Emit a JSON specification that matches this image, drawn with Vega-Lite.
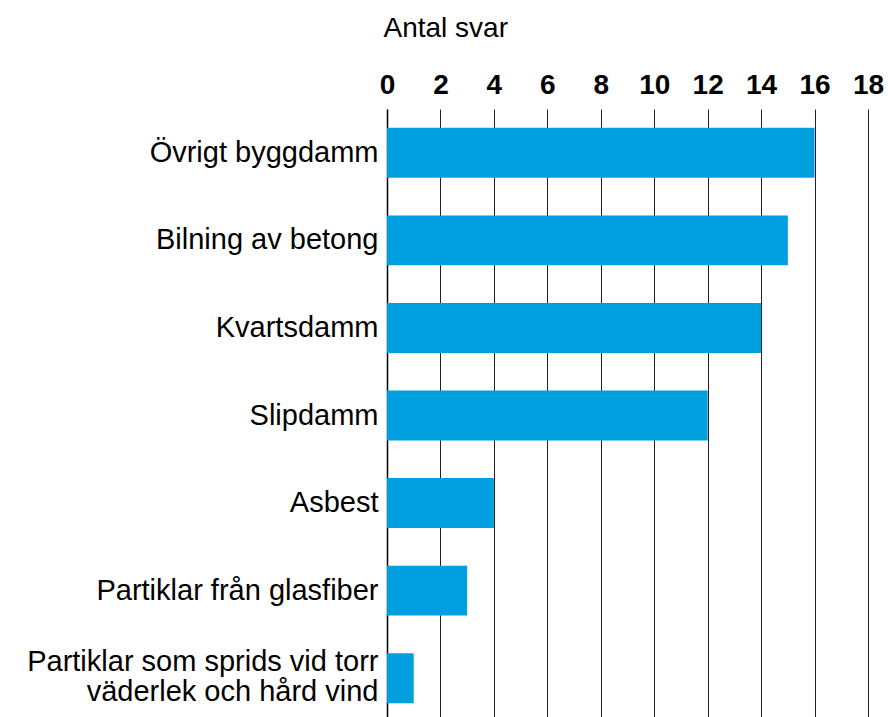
{
  "$schema": "https://vega.github.io/schema/vega-lite/v6.json",
  "width": 481,
  "height": 613,
  "autosize": {"type": "none"},
  "padding": {"left": 387, "top": 109, "right": 20, "bottom": 0},
  "background": "white",
  "config": {"view": {"stroke": null}, "font": "Liberation Sans"},
  "data": {"values": [
    {"kategori": "Övrigt byggdamm", "antal": 16},
    {"kategori": "Bilning av betong", "antal": 15},
    {"kategori": "Kvartsdamm", "antal": 14},
    {"kategori": "Slipdamm", "antal": 12},
    {"kategori": "Asbest", "antal": 4},
    {"kategori": "Partiklar från glasfiber", "antal": 3},
    {"kategori": "Partiklar som sprids vid torr väderlek och hård vind", "antal": 1}
  ]},
  "mark": {"type": "bar", "color": "#009fe0"},
  "encoding": {
    "y": {
      "field": "kategori", "type": "nominal", "sort": null,
      "scale": {"paddingInner": 0.43, "paddingOuter": 0.215},
      "axis": {
        "title": null, "domain": true, "domainColor": "#000", "domainWidth": 1.5,
        "ticks": false, "labelPadding": 9, "labelFontSize": 29, "labelColor": "#000",
        "labelLimit": 500, "labelLineHeight": 30,
        "labelOffset": {"condition": {"test": "length(datum.value) > 40", "value": -16}, "value": 0},
        "labelExpr": "datum.value == 'Partiklar som sprids vid torr väderlek och hård vind' ? ['Partiklar som sprids vid torr\u00a0', 'väderlek och hård vind'] : datum.value"
      }
    },
    "x": {
      "field": "antal", "type": "quantitative",
      "scale": {"domain": [0, 18], "nice": false},
      "axis": {
        "orient": "top", "values": [0,2,4,6,8,10,12,14,16,18],
        "domain": false, "ticks": false, "grid": true, "gridColor": "#222", "gridWidth": 1, "gridOpacity": 1,
        "labelFontSize": 28, "labelFontWeight": "bold", "labelColor": "#000", "labelPadding": 16,
        "labelBaseline": "alphabetic", "labelFlush": false,
        "title": "Antal svar", "titleFontSize": 28, "titleFontWeight": "normal", "titleColor": "#000",
        "titleAnchor": "start", "titleAlign": "left", "titleBaseline": "middle", "titleX": -4, "titleY": -81
      }
    }
  }
}
